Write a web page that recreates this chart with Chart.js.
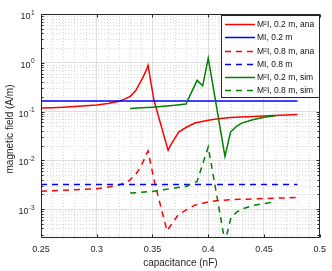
<!DOCTYPE html>
<html lang="en">
<head>
<meta charset="UTF-8">
<title>Magnetic field vs capacitance</title>
<script src="https://cdn.jsdelivr.net/npm/chart.js"></script>
<style>
    html, body { margin: 0; padding: 0; background: #fff; }
    #wrap { position: relative; width: 332px; height: 271px; }
</style>
</head>
<body>
<div id="wrap"><canvas id="fieldChart"></canvas></div>
<script>
    // values (capacitance in nF, field in A/m)
    const capAna02 = [0.25, 0.26, 0.27, 0.28, 0.29, 0.30, 0.31, 0.32, 0.325, 0.33, 0.335, 0.338, 0.341, 0.343, 0.345, 0.346,
                      0.3513, 0.364, 0.366, 0.369, 0.3735, 0.38, 0.388, 0.40, 0.409, 0.42, 0.44, 0.46, 0.48];
    const fieldAna02 = [0.118, 0.12, 0.123, 0.127, 0.131, 0.136, 0.146, 0.162, 0.18, 0.205, 0.27, 0.36, 0.48, 0.6, 0.76, 0.88,
                        0.17, 0.016, 0.02, 0.026, 0.038, 0.047, 0.058, 0.066, 0.071, 0.075, 0.079, 0.083, 0.087];

    const capAna08 = [0.25, 0.30, 0.32, 0.329, 0.335, 0.338, 0.341, 0.343, 0.345, 0.346,
                      0.352, 0.363, 0.366, 0.369, 0.3735, 0.38, 0.388, 0.40, 0.409, 0.42, 0.44, 0.46, 0.48];
    const fieldAna08 = [0.00232, 0.0026, 0.0031, 0.0038, 0.0052, 0.0065, 0.0088, 0.011, 0.014, 0.0155,
                        0.0034, 0.00036, 0.00045, 0.00057, 0.00078, 0.00095, 0.0012, 0.0014, 0.0015, 0.00155, 0.00162, 0.00167, 0.00172];

    const capMI = [0.25, 0.48];
    const fieldMI02 = [0.164, 0.164];
    const fieldMI08 = [0.0032, 0.0032];

    const capSim02 = [0.33, 0.34, 0.35, 0.36, 0.37, 0.38, 0.39, 0.395, 0.40, 0.415, 0.42, 0.425, 0.43, 0.44, 0.45, 0.46];
    const fieldSim02 = [0.116, 0.119, 0.123, 0.128, 0.134, 0.142, 0.435, 0.337, 1.25, 0.012, 0.038, 0.049, 0.058, 0.068, 0.076, 0.082];

    const capSim08 = [0.33, 0.34, 0.35, 0.36, 0.37, 0.38, 0.39, 0.40, 0.415, 0.42, 0.425, 0.43, 0.44, 0.45, 0.46];
    const fieldSim08 = [0.00214, 0.0022, 0.0023, 0.0025, 0.0027, 0.0029, 0.0037, 0.0188, 0.00021, 0.00062, 0.00085, 0.001, 0.00118, 0.0013, 0.0014];

    const seriesLabels = ['M²I, 0.2 m, ana', 'MI, 0.2 m', 'M²I, 0.8 m, ana', 'MI, 0.8 m', 'M²I, 0.2 m, sim', 'M²I, 0.8 m, sim'];

    const xTicks = [0.25, 0.3, 0.35, 0.4, 0.45, 0.5];
    const xTickLabels = ['0.25', '0.3', '0.35', '0.4', '0.45', '0.5'];
    const yTickExps = [-3, -2, -1, 0, 1];

    const FONT = '"Liberation Sans", Arial, Helvetica, sans-serif';
    const AXIS_COLOR = '#262626';

    function pts(xs, ys) {
        return xs.map((v, i) => ({ x: v, y: ys[i] }));
    }

    // minor grid positions
    const xMinor = [];
    for (let i = 26; i < 50; i++) {
        if (i % 5 !== 0) xMinor.push(i / 100);
    }
    const yMinor = [];
    for (let e = -4; e <= 0; e++) {
        for (let k = 2; k <= 9; k++) yMinor.push(k * Math.pow(10, e));
    }

    const matlabFrame = {
        id: 'matlabFrame',
        beforeDatasetsDraw(chart) {
            const { ctx, chartArea: a, scales: { x, y } } = chart;
            ctx.save();
            ctx.strokeStyle = '#dadada';
            ctx.lineWidth = 1;
            ctx.setLineDash([1, 2]);
            ctx.beginPath();
            xMinor.forEach(v => {
                const px = Math.round(x.getPixelForValue(v)) + 0.5;
                ctx.moveTo(px, a.top);
                ctx.lineTo(px, a.bottom);
            });
            yMinor.forEach(v => {
                const py = Math.round(y.getPixelForValue(v)) + 0.5;
                if (py < a.top || py > a.bottom) return;
                ctx.moveTo(a.left, py);
                ctx.lineTo(a.right, py);
            });
            ctx.stroke();
            ctx.restore();
        },
        afterDatasetsDraw(chart) {
            const { ctx, chartArea: a, scales: { x, y } } = chart;
            const L = Math.round(a.left) + 0.5, R = Math.round(a.right) - 0.5;
            const T = Math.round(a.top) + 0.5, B = Math.round(a.bottom) - 0.5;
            ctx.save();

            // box and ticks
            ctx.strokeStyle = AXIS_COLOR;
            ctx.lineWidth = 1;
            ctx.beginPath();
            ctx.rect(L, T, R - L, B - T);
            xTicks.forEach(v => {
                const px = Math.round(x.getPixelForValue(v)) + 0.5;
                ctx.moveTo(px, B); ctx.lineTo(px, B - 3);
                ctx.moveTo(px, T); ctx.lineTo(px, T + 3);
            });
            yTickExps.forEach(e => {
                const py = Math.round(y.getPixelForValue(Math.pow(10, e))) + 0.5;
                ctx.moveTo(L, py); ctx.lineTo(L + 3, py);
                ctx.moveTo(R, py); ctx.lineTo(R - 3, py);
            });
            yMinor.forEach(v => {
                const py = Math.round(y.getPixelForValue(v)) + 0.5;
                if (py < a.top || py > a.bottom) return;
                ctx.moveTo(L, py); ctx.lineTo(L + 2, py);
                ctx.moveTo(R, py); ctx.lineTo(R - 2, py);
            });
            ctx.stroke();

            // y tick labels 10^n
            ctx.fillStyle = AXIS_COLOR;
            ctx.textAlign = 'right';
            ctx.textBaseline = 'alphabetic';
            yTickExps.forEach(e => {
                const py = y.getPixelForValue(Math.pow(10, e));
                const ex = String(e);
                ctx.font = '6.5px ' + FONT;
                const w = ctx.measureText(ex).width;
                ctx.fillText(ex, 34.5, py + 0.7);
                ctx.font = '9px ' + FONT;
                ctx.fillText('10', 34.5 - w - 0.3, py + 5);
            });

            // axis titles
            ctx.font = '10px ' + FONT;
            ctx.textAlign = 'center';
            ctx.textBaseline = 'middle';
            ctx.fillText('capacitance (nF)', (a.left + a.right) / 2, 263);
            ctx.save();
            ctx.translate(10.5, 129);
            ctx.rotate(-Math.PI / 2);
            ctx.fillText('magnetic field (A/m)', 0, 0);
            ctx.restore();

            // legend box
            ctx.fillStyle = '#fff';
            ctx.fillRect(221.5, 15.5, 98, 82);
            ctx.strokeStyle = AXIS_COLOR;
            ctx.strokeRect(221.5, 15.5, 98, 82);
            ctx.font = '8.5px ' + FONT;
            ctx.textAlign = 'left';
            ctx.textBaseline = 'middle';
            chart.data.datasets.forEach((ds, i) => {
                const ly = Math.round(24.3 + i * 13.15) + 0.5;
                ctx.strokeStyle = ds.borderColor;
                ctx.lineWidth = ds.borderWidth;
                ctx.setLineDash(ds.borderDash || []);
                ctx.beginPath();
                ctx.moveTo(225, ly);
                ctx.lineTo(255, ly);
                ctx.stroke();
                ctx.setLineDash([]);
                ctx.fillStyle = '#111';
                ctx.fillText(ds.label, 257, ly + 0.5);
            });
            ctx.restore();
        }
    };

    const dash = [6, 5];
    const colors = ['#ff0000', '#0000ff', '#ff0000', '#0000ff', '#008000', '#008000'];
    const dashed = [false, false, true, true, false, true];
    const series = [pts(capAna02, fieldAna02), pts(capMI, fieldMI02), pts(capAna08, fieldAna08),
                    pts(capMI, fieldMI08), pts(capSim02, fieldSim02), pts(capSim08, fieldSim08)];

    const ctx = document.getElementById('fieldChart').getContext('2d');
    const fieldChart = new Chart(ctx, {
        type: 'line',
        data: {
            datasets: series.map((d, i) => ({
                label: seriesLabels[i],
                data: d,
                borderColor: colors[i],
                borderWidth: 1.5,
                borderDash: dashed[i] ? dash : [],
                pointRadius: 0,
                tension: 0,
                fill: false,
                order: 6 - i
            }))
        },
        options: {
            responsive: true,
            maintainAspectRatio: false,
            animation: false,
            layout: { padding: { left: 0, right: 9, top: 14, bottom: 0 } },
            plugins: {
                legend: { display: false },
                tooltip: { enabled: false }
            },
            scales: {
                x: {
                    type: 'linear',
                    min: 0.25,
                    max: 0.5,
                    afterBuildTicks: (s) => { s.ticks = xTicks.map(v => ({ value: v })); },
                    afterFit: (s) => { s.height = 33; },
                    ticks: {
                        callback: (v, i) => xTickLabels[i],
                        font: { family: FONT, size: 9 },
                        color: AXIS_COLOR,
                        padding: 6,
                        maxRotation: 0
                    },
                    grid: { color: '#dedede', drawTicks: false },
                    border: { display: false }
                },
                y: {
                    type: 'logarithmic',
                    min: 2.55e-4,
                    max: 10,
                    afterBuildTicks: (s) => { s.ticks = yTickExps.map(e => ({ value: Math.pow(10, e), major: true })); },
                    afterFit: (s) => { s.width = 41; },
                    ticks: { display: false },
                    grid: { color: '#dedede', drawTicks: false },
                    border: { display: false }
                }
            }
        },
        plugins: [matlabFrame]
    });
</script>
</body>
</html>
